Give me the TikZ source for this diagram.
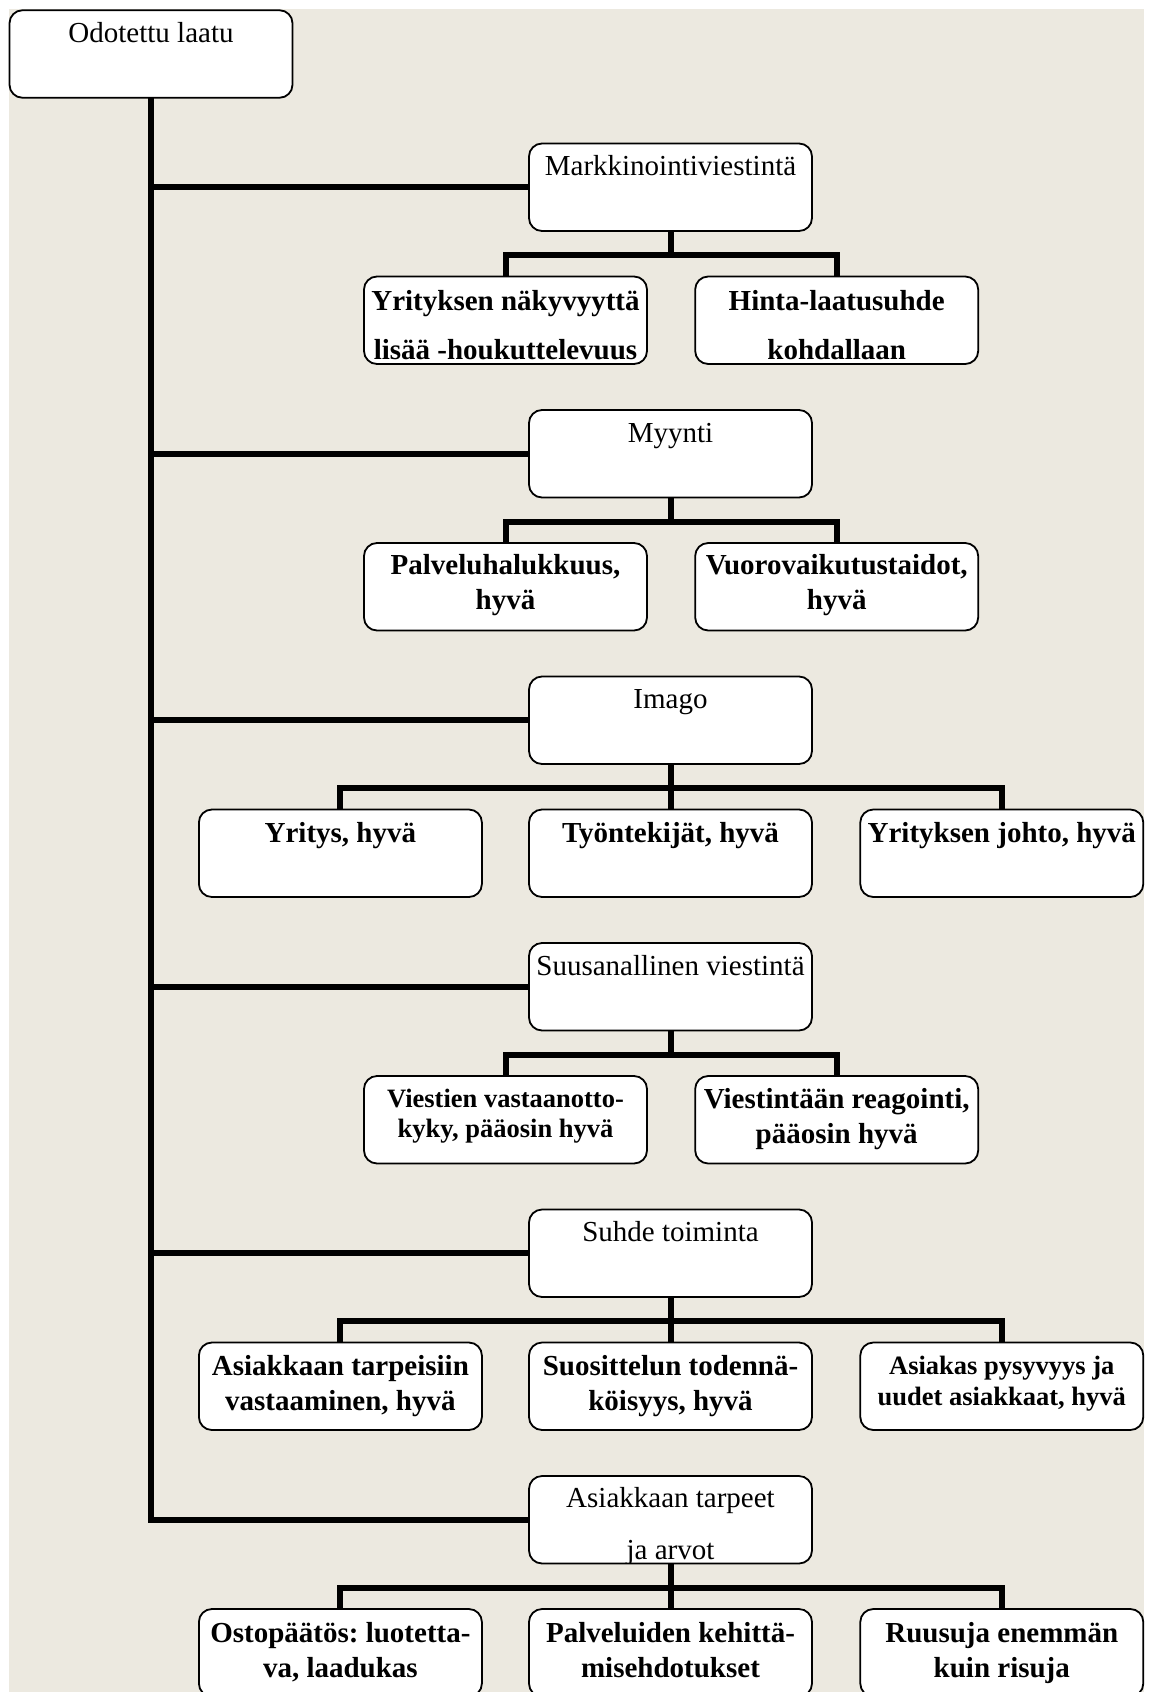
\documentclass[tikz,border=0pt]{standalone}
\usepackage{fontspec}
\setmainfont{Liberation Serif}
\frenchspacing
\definecolor{paper}{RGB}{236,233,224}
\begin{document}
\begin{tikzpicture}[x=1pt, y=-1pt,
  frame/.style={draw=black, line width=1.8pt, fill=white, rounded corners=13pt,
    minimum width=283pt, minimum height=87.5pt, inner sep=0pt, outer sep=0pt},
  link/.style={draw=black, line width=6pt, line join=miter},
  mainlbl/.style={anchor=base, inner sep=0pt, font=\fontsize{29}{34}\selectfont},
  sublbl/.style={anchor=base, inner sep=0pt, font=\fontsize{29}{34}\selectfont\bfseries},
  sublblsm/.style={anchor=base, inner sep=0pt, font=\fontsize{26.5}{31}\selectfont\bfseries}]

\useasboundingbox (0,0) rectangle (1149,1692);
\clip (0,0) rectangle (1149,1692);
\fill[paper] (9,9) rectangle (1144,1692);

% root and the six main topics
\node[frame] (root)  at (151,54) {};
\node[frame] (markk) at (670.5,187.25) {};
\node[frame] (myyn)  at (670.5,453.75) {};
\node[frame] (imago) at (670.5,720.25) {};
\node[frame] (suus)  at (670.5,986.75) {};
\node[frame] (suhde) at (670.5,1253.25) {};
\node[frame] (asiak) at (670.5,1519.75) {};

% sub-items
\node[frame] (mk1) at (505.5,320.25) {};
\node[frame] (mk2) at (836.7,320.25) {};
\node[frame] (my1) at (505.5,586.75) {};
\node[frame] (my2) at (836.7,586.75) {};
\node[frame] (im1) at (340.4,853.25) {};
\node[frame] (im2) at (670.5,853.25) {};
\node[frame] (im3) at (1001.8,853.25) {};
\node[frame] (su1) at (505.5,1119.75) {};
\node[frame] (su2) at (836.7,1119.75) {};
\node[frame] (sh1) at (340.4,1386.25) {};
\node[frame] (sh2) at (670.5,1386.25) {};
\node[frame] (sh3) at (1001.8,1386.25) {};
\node[frame] (as1) at (340.4,1652.75) {};
\node[frame] (as2) at (670.5,1652.75) {};
\node[frame] (as3) at (1001.8,1652.75) {};

% trunk and branches to the main topics
\draw[link] (root.south) |- (asiak.west);
\foreach \t in {markk,myyn,imago,suus,suhde}
  \draw[link] (root.south |- \t.west) -- (\t.west);

% two-way splits
\foreach \p/\a/\b in {markk/mk1/mk2, myyn/my1/my2, suus/su1/su2}{
  \draw[link] (\a.north) -- ++(0,-21.5) coordinate (\p-bar) -| (\b.north);
  \draw[link] (\p.south) -- (\p.south |- \p-bar);
}
% three-way splits
\foreach \p/\a/\m/\b in {imago/im1/im2/im3, suhde/sh1/sh2/sh3, asiak/as1/as2/as3}{
  \draw[link] (\a.north) -- ++(0,-21.5) -| (\b.north);
  \draw[link] (\p.south) -- (\m.north);
}

% labels of the root and main topics
\node[mainlbl] (t-root)  at ([yshift=-32pt]root.north)  {Odotettu laatu};
\node[mainlbl] (t-markk) at ([yshift=-32pt]markk.north) {Markkinointiviestintä};
\node[mainlbl] (t-myyn)  at ([yshift=-32pt]myyn.north)  {Myynti};
\node[mainlbl] (t-imago) at ([yshift=-32pt]imago.north) {Imago};
\node[mainlbl] (t-suus)  at ([yshift=-32pt]suus.north)  {Suusanallinen viestintä};
\node[mainlbl] (t-suhde) at ([yshift=-32pt]suhde.north) {Suhde toiminta};
\node[mainlbl] (t-asiak) at ([yshift=-31pt]asiak.north) {Asiakkaan tarpeet};
\begin{scope}
  \clip ([yshift=1pt]asiak.south west) rectangle (asiak.north east);
  \node[mainlbl] (t-asiak2) at ([yshift=-83pt]asiak.north) {ja arvot};
\end{scope}

% labels of the sub-items
\node[sublbl] (t-mk1a) at ([yshift=-34pt]mk1.north) {Yrityksen näkyvyyttä};
\node[sublbl] (t-mk1b) at ([yshift=-83pt]mk1.north) {lisää -houkuttelevuus};
\node[sublbl] (t-mk2a) at ([yshift=-34pt]mk2.north) {Hinta-laatusuhde};
\node[sublbl] (t-mk2b) at ([yshift=-83pt]mk2.north) {kohdallaan};

\node[sublbl] (t-my1a) at ([yshift=-31pt]my1.north) {Palveluhalukkuus,};
\node[sublbl] (t-my1b) at ([yshift=-66pt]my1.north) {hyvä};
\node[sublbl] (t-my2a) at ([yshift=-31pt]my2.north) {Vuorovaikutustaidot,};
\node[sublbl] (t-my2b) at ([yshift=-66pt]my2.north) {hyvä};

\node[sublbl] (t-im1) at ([yshift=-33pt]im1.north) {Yritys, hyvä};
\node[sublbl] (t-im2) at ([yshift=-33pt]im2.north) {Työntekijät, hyvä};
\node[sublbl] (t-im3) at ([yshift=-33pt]im3.north) {Yrityksen johto, hyvä};

\node[sublblsm] (t-su1a) at ([yshift=-31pt]su1.north) {Viestien vastaanotto-};
\node[sublblsm] (t-su1b) at ([yshift=-61pt]su1.north) {kyky, pääosin hyvä};
\node[sublbl] (t-su2a) at ([yshift=-32pt]su2.north) {Viestintään reagointi,};
\node[sublbl] (t-su2b) at ([yshift=-67pt]su2.north) {pääosin hyvä};

\node[sublbl] (t-sh1a) at ([yshift=-33pt]sh1.north) {Asiakkaan tarpeisiin};
\node[sublbl] (t-sh1b) at ([yshift=-68pt]sh1.north) {vastaaminen, hyvä};
\node[sublbl] (t-sh2a) at ([yshift=-33pt]sh2.north) {Suosittelun todennä-};
\node[sublbl] (t-sh2b) at ([yshift=-68pt]sh2.north) {köisyys, hyvä};
\node[sublblsm] (t-sh3a) at ([yshift=-32pt]sh3.north) {Asiakas pysyvyys ja};
\node[sublblsm] (t-sh3b) at ([yshift=-63pt]sh3.north) {uudet asiakkaat, hyvä};

\node[sublbl] (t-as1a) at ([yshift=-33pt]as1.north) {Ostopäätös: luotetta-};
\node[sublbl] (t-as1b) at ([yshift=-68pt]as1.north) {va, laadukas};
\node[sublbl] (t-as2a) at ([yshift=-33pt]as2.north) {Palveluiden kehittä-};
\node[sublbl] (t-as2b) at ([yshift=-68pt]as2.north) {misehdotukset};
\node[sublbl] (t-as3a) at ([yshift=-33pt]as3.north) {Ruusuja enemmän};
\node[sublbl] (t-as3b) at ([yshift=-68pt]as3.north) {kuin risuja};
\end{tikzpicture}
\end{document}
